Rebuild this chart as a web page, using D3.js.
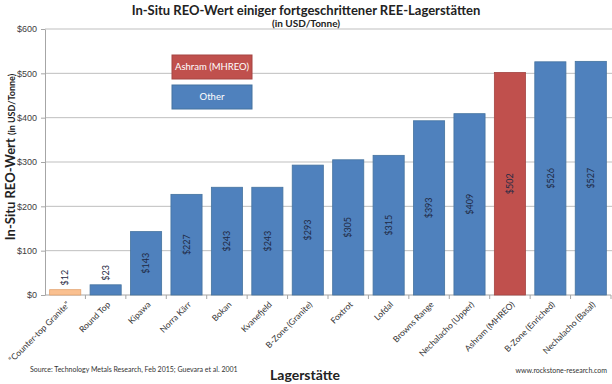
<!DOCTYPE html>
<html>
<head>
<meta charset="utf-8">
<script src="https://d3js.org/d3.v7.min.js"></script>
<style>
  body {margin: 0; background: white;}
  svg {font-family: Lato, "Open Sans", sans-serif;}
  .grid line {stroke: #bfbfbf; stroke-width: 1px;}
  .tick text {fill: #404040;}
</style>
</head>
<body>
<svg id="chart" width="612" height="384"></svg>
<script>
// deposit names and in-situ REO values (USD/t)
var deposits = ["\u201cCounter-top Granite\u201d", "Round Top", "Kipawa", "Norra K\u00e4rr", "Bokan", "Kvanefjeld",
  "B-Zone (Granite)", "Foxtrot", "Lofdal", "Browns Range", "Nechalacho (Upper)", "Ashram (MHREO)",
  "B-Zone (Enriched)", "Nechalacho (Basal)"];
var values = [12, 23, 143, 227, 243, 243, 293, 305, 315, 393, 409, 502, 526, 527];
var kinds = ["granite", "other", "other", "other", "other", "other", "other", "other", "other", "other", "other", "ashram", "other", "other"];
var yTicks = [0, 100, 200, 300, 400, 500, 600];

var fills = {granite: "#fac090", other: "#4f81bd", ashram: "#c0504d"};
var strokes = {granite: "#e2a26f", other: "#45739f", ashram: "#a54542"};

var svg = d3.select("#chart");
// note: "top" is reserved on window, so plot edges get their own names
var plotL = 45, plotR = 611, plotT = 29, plotB = 295;

var x = d3.scaleBand().domain(deposits).range([plotL, plotR]).paddingInner(0.23).paddingOuter(0.115);
var y = d3.scaleLinear().domain([0, 600]).range([plotB, plotT]);

// gridlines
svg.append("g").attr("class", "grid")
  .selectAll("line").data(yTicks.slice(1)).enter().append("line")
  .attr("x1", plotL).attr("x2", 612)
  .attr("y1", function(d) { return y(d); }).attr("y2", function(d) { return y(d); });

// y axis
var yAxis = svg.append("g").attr("transform", "translate(" + plotL + ",0)")
  .call(d3.axisLeft(y).tickValues(yTicks).tickSize(4).tickPadding(4).tickSizeOuter(0).tickFormat(function(d) { return "$" + d; }));
yAxis.selectAll("text").style("font-size", "9px");
yAxis.selectAll("line, path").attr("stroke", "#a6a6a6");

// x axis with ticks between bands
var xg = svg.append("g");
xg.append("line").attr("x1", plotL).attr("x2", plotR).attr("y1", plotB).attr("y2", plotB).attr("stroke", "#a6a6a6");
var step = x.step();
xg.selectAll("line.tk").data(deposits).enter().append("line").attr("class", "tk")
  .attr("x1", function(d) { return x(d) - x.paddingInner() * step / 2 + step; })
  .attr("x2", function(d) { return x(d) - x.paddingInner() * step / 2 + step; })
  .attr("y1", plotB).attr("y2", plotB + 4).attr("stroke", "#a6a6a6");

xg.selectAll("text").data(deposits).enter().append("text")
  .attr("transform", function(d) { return "translate(" + (x(d) + x.bandwidth() / 2 + 3) + "," + (plotB + 8) + ") rotate(-45)"; })
  .attr("text-anchor", "end")
  .attr("dy", "0.35em")
  .style("font-size", "8.5px")
  .style("fill", "#333")
  .text(function(d) { return d; });

// bars
svg.selectAll("rect.bar").data(deposits).enter().append("rect").attr("class", "bar")
  .attr("x", function(d) { return x(d); })
  .attr("width", x.bandwidth())
  .attr("y", function(d, i) { return y(values[i]); })
  .attr("height", function(d, i) { return plotB - y(values[i]); })
  .attr("fill", function(d, i) { return fills[kinds[i]]; })
  .attr("stroke", function(d, i) { return strokes[kinds[i]]; })
  .attr("stroke-width", 0.8);

// value labels: centred inside, above small bars
svg.selectAll("text.val").data(deposits).enter().append("text").attr("class", "val")
  .attr("transform", function(d, i) {
    var cx = x(d) + x.bandwidth() / 2;
    var v = values[i];
    var cy = v < 60 ? y(v) - 12 : (y(v) + plotB) / 2;
    return "translate(" + cx + "," + cy + ") rotate(-90)";
  })
  .attr("text-anchor", "middle")
  .attr("dy", "0.35em")
  .style("font-size", "9px")
  .style("fill", "#1f2a44")
  .text(function(d, i) { return "$" + values[i]; });

// legend boxes
var legend = [{label: "Ashram (MHREO)", kind: "ashram"}, {label: "Other", kind: "other"}];
var lg = svg.selectAll("g.leg").data(legend).enter().append("g").attr("class", "leg")
  .attr("transform", function(d, i) { return "translate(172," + (55 + i * 30) + ")"; });
lg.append("rect").attr("width", 80).attr("height", 24)
  .attr("fill", function(d) { return fills[d.kind]; })
  .attr("stroke", function(d) { return strokes[d.kind]; });
lg.append("text").attr("x", 40).attr("y", 12).attr("dy", "0.35em")
  .attr("text-anchor", "middle").style("font-size", "9.5px").style("fill", "white")
  .text(function(d) { return d.label; });

// titles
svg.append("text").attr("x", 306).attr("y", 15).attr("text-anchor", "middle")
  .style("font-size", "13px").style("font-weight", "bold").style("fill", "#222")
  .text("In-Situ REO-Wert einiger fortgeschrittener REE-Lagerst\u00e4tten");
svg.append("text").attr("x", 306).attr("y", 27).attr("text-anchor", "middle")
  .style("font-size", "10px").style("font-weight", "bold").style("fill", "#222")
  .text("(in USD/Tonne)");

var yt = svg.append("text").attr("transform", "translate(15,157) rotate(-90)")
  .attr("text-anchor", "middle").style("font-weight", "bold").style("fill", "#222");
yt.append("tspan").style("font-size", "13px").text("In-Situ REO-Wert ");
yt.append("tspan").style("font-size", "9px").text("(in USD/Tonne)");

svg.append("text").attr("x", 305).attr("y", 380).attr("text-anchor", "middle")
  .style("font-size", "14px").style("font-weight", "bold").style("fill", "#222")
  .text("Lagerst\u00e4tte");

svg.append("text").attr("x", 30).attr("y", 372)
  .style("font-size", "7px").style("fill", "#333")
  .text("Source: Technology Metals Research, Feb 2015; Guevara et al. 2001");
svg.append("text").attr("x", 607).attr("y", 373).attr("text-anchor", "end")
  .style("font-size", "7px").style("fill", "#333")
  .text("www.rockstone-research.com");
</script>
</body>
</html>
